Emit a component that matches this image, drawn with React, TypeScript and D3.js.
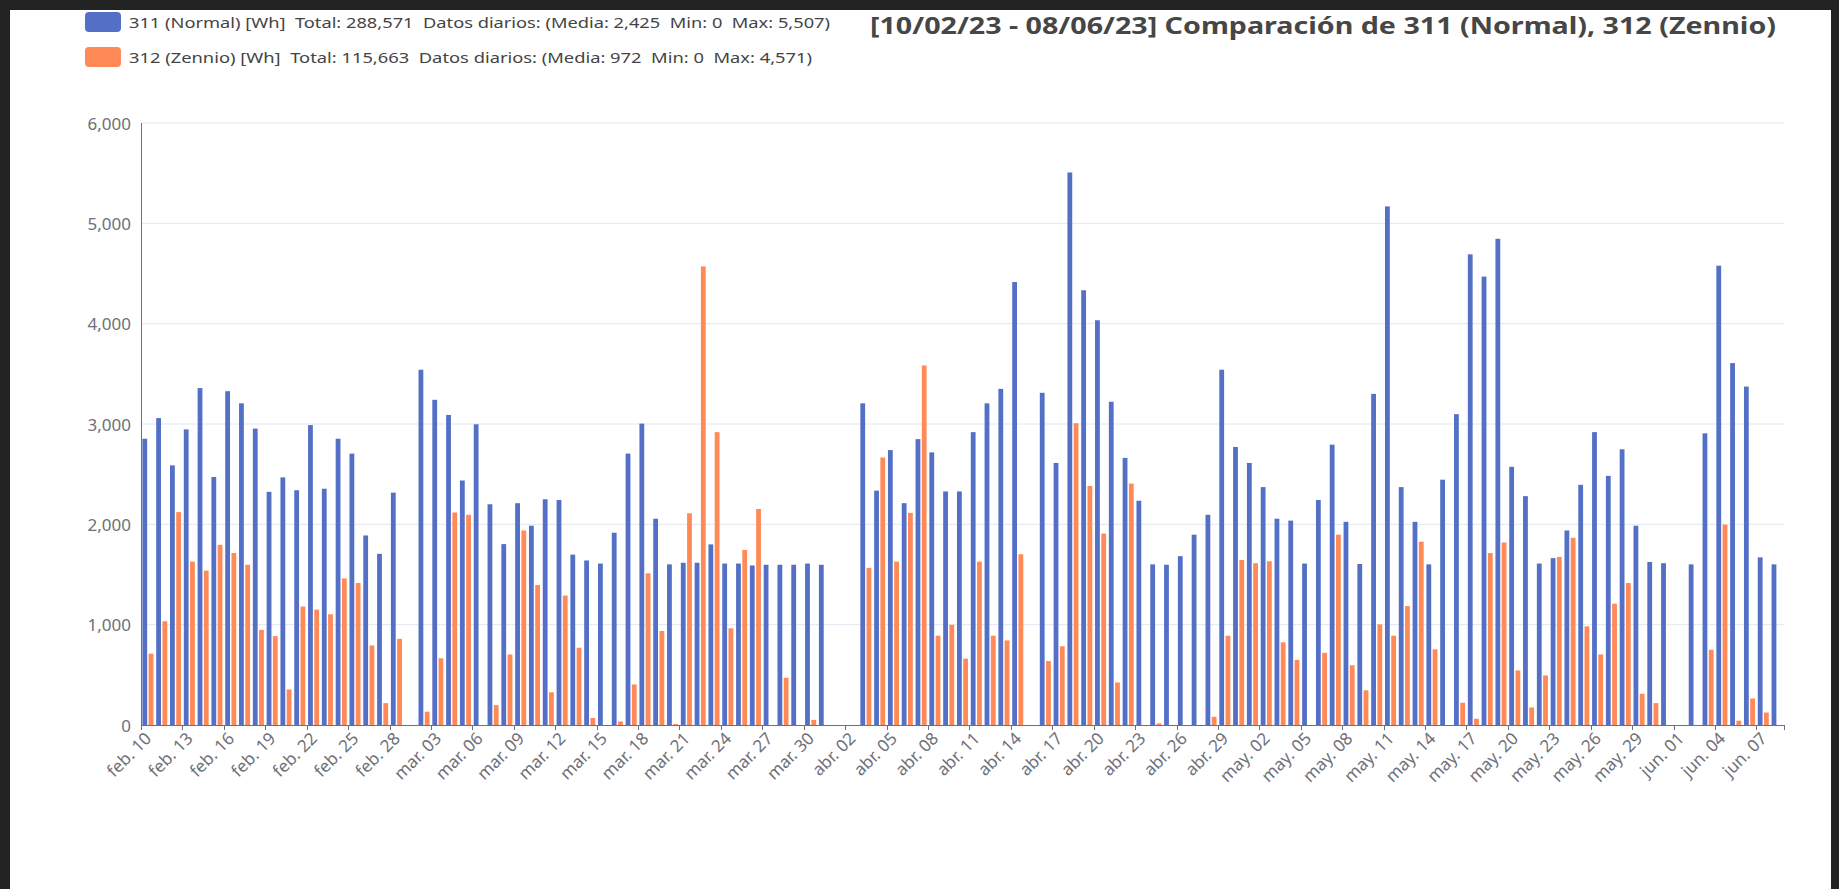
import React from 'react';
import * as d3 from 'd3';

// ---- Data ----
const monthAbbr = ['ene.', 'feb.', 'mar.', 'abr.', 'may.', 'jun.', 'jul.', 'ago.', 'sep.', 'oct.', 'nov.', 'dic.'];
const days = d3.timeDay.range(new Date(2023, 1, 10), new Date(2023, 5, 9));
const categories: string[] = days.map(
  (d) => `${monthAbbr[d.getMonth()]} ${String(d.getDate()).padStart(2, '0')}`
);

const series311: number[] = [
  2853, 3059, 2588, 2946, 3358, 2472, 3327, 3206, 2954, 2324,
  2468, 2340, 2989, 2355, 2853, 2705, 1889, 1706, 2316, 0,
  3541, 3241, 3090, 2437, 2997, 2200, 1803, 2211, 1986, 2250,
  2243, 1698, 1640, 1609, 1916, 2705, 3004, 2056, 1601, 1617,
  1617, 1800, 1609, 1609, 1590, 1597, 1597, 1597, 1609, 1597,
  0, 0, 3206, 2336, 2740, 2211, 2849, 2717, 2328, 2328,
  2919, 3206, 3350, 4415, 0, 3311, 2612, 5507, 4333, 4034,
  3222, 2662, 2235, 1601, 1597, 1683, 1897, 2095, 3541, 2771,
  2612, 2371, 2056, 2037, 1609, 2243, 2794, 2025, 1605, 3300,
  5169, 2371, 2025, 1601, 2445, 3098, 4691, 4469, 4846, 2573,
  2281, 1609, 1663, 1939, 2394, 2919, 2483, 2748, 1986, 1625,
  1613, 0, 1601, 2907, 4578, 3607, 3373, 1671, 1601,
];

const series312: number[] = [
  711, 1034, 2122, 1628, 1539, 1796, 1714, 1597, 948, 886,
  354, 1181, 1150, 1104, 1461, 1415, 793, 218, 859, 0,
  132, 665, 2118, 2095, 0, 198, 703, 1939, 1395, 326,
  1290, 770, 70, 0, 35, 404, 1512, 937, 10, 2110,
  4571, 2919, 964, 1745, 2153, 0, 470, 0, 51, 0,
  0, 0, 1566, 2666, 1628, 2114, 3583, 890, 999, 661,
  1628, 890, 843, 1702, 0, 637, 785, 3008, 2382, 1908,
  424, 2406, 0, 16, 0, 0, 0, 82, 890, 1644,
  1613, 1632, 824, 649, 0, 719, 1897, 595, 346, 1003,
  890, 1185, 1827, 754, 0, 222, 62, 1714, 1819, 544,
  175, 494, 1675, 1866, 983, 703, 1209, 1415, 311, 218,
  0, 0, 0, 750, 1998, 43, 264, 124, 0,
];

const seriesNames = ['311', '312'];
const seriesColors = ['#5470c6', '#ff8a57'];
const legendLabels = [
  '311 (Normal) [Wh]  Total: 288,571  Datos diarios: (Media: 2,425  Min: 0  Max: 5,507)',
  '312 (Zennio) [Wh]  Total: 115,663  Datos diarios: (Media: 972  Min: 0  Max: 4,571)',
];
const titleText = '[10/02/23 - 08/06/23] Comparación de 311 (Normal), 312 (Zennio)';
const yTickValues = [0, 1000, 2000, 3000, 4000, 5000, 6000];

// ---- Layout ----
const W = 1839;
const H = 889;
const plot = { left: 141, right: 1784, top: 123, bottom: 725 };
const FONT = "'Noto Sans', 'Open Sans', sans-serif";

export default function App() {
  const x = d3.scaleBand<string>().domain(categories).range([plot.left, plot.right]).padding(0);
  const bw = x.bandwidth();
  const x1 = d3
    .scaleBand<string>()
    .domain(seriesNames)
    .range([bw * 0.1, bw * 0.9])
    .paddingInner(0.3 / 1.3)
    .paddingOuter(0);
  const y = d3.scaleLinear().domain([0, 6000]).range([plot.bottom, plot.top]);
  const fmt = d3.format(',');

  const data = [series311, series312];
  const tickIdx = categories.map((_, i) => i).filter((i) => i % 3 === 0);

  return (
    <div style={{ position: 'fixed', left: 0, top: 0, width: W, height: H }}>
      <svg width={W} height={H} style={{ display: 'block' }}>
        <rect x={0} y={0} width={W} height={H} fill="#232323" />
        <rect x={10} y={10} width={1821} height={H - 10} fill="#ffffff" />

        {/* title */}
        <text
          x={1776}
          y={34}
          textAnchor="end"
          fontFamily={FONT}
          fontWeight="bold"
          fontSize={24}
          fill="#464646"
          textLength={906}
          lengthAdjust="spacingAndGlyphs"
        >
          {titleText}
        </text>

        {/* legend */}
        {legendLabels.map((lab, k) => {
          const cy = k === 0 ? 22 : 57;
          const tl = k === 0 ? 701 : 683;
          return (
            <g key={k}>
              <rect x={85} y={cy - 10} width={36} height={20} rx={4} fill={seriesColors[k]} />
              <text
                x={129}
                y={cy}
                dominantBaseline="central"
                fontFamily={FONT}
                fontSize={15}
                fill="#444"
                style={{ whiteSpace: 'pre' }}
                textLength={tl}
                lengthAdjust="spacingAndGlyphs"
              >
                {lab}
              </text>
            </g>
          );
        })}

        {/* grid lines */}
        {yTickValues.map((v) =>
          v === 0 ? null : (
            <line key={v} x1={plot.left} x2={plot.right} y1={y(v)} y2={y(v)} stroke="#e0e6f1" strokeWidth={1} />
          )
        )}

        {/* y axis labels */}
        {yTickValues.map((v) => (
          <text
            key={'yl' + v}
            x={plot.left - 10}
            y={y(v)}
            textAnchor="end"
            dominantBaseline="central"
            fontFamily={FONT}
            fontSize={17}
            fill="#6e7079"
          >
            {fmt(v)}
          </text>
        ))}

        {/* bars */}
        {data.map((arr, s) =>
          arr.map((v, i) =>
            v > 0 ? (
              <rect
                key={s + '-' + i}
                x={(x(categories[i]) as number) + (x1(seriesNames[s]) as number)}
                y={y(v)}
                width={x1.bandwidth()}
                height={y(0) - y(v)}
                fill={seriesColors[s]}
              />
            ) : null
          )
        )}

        {/* y axis line */}
        <line x1={plot.left + 0.5} x2={plot.left + 0.5} y1={plot.top} y2={plot.bottom} stroke="#6e7079" />
        {/* x axis line */}
        <line x1={plot.left} x2={plot.right} y1={plot.bottom + 0.5} y2={plot.bottom + 0.5} stroke="#6e7079" />

        {/* x ticks */}
        {[...tickIdx.map((i) => x(categories[i]) as number), plot.right].map((tx, k) => (
          <line
            key={'xt' + k}
            x1={Math.round(tx) + 0.5}
            x2={Math.round(tx) + 0.5}
            y1={plot.bottom}
            y2={plot.bottom + 5}
            stroke="#6e7079"
          />
        ))}

        {/* x labels */}
        {tickIdx.map((i) => {
          const cx = (x(categories[i]) as number) + bw / 2;
          const cy = plot.bottom + 10;
          return (
            <text
              key={'xl' + i}
              transform={`translate(${cx},${cy}) rotate(-45)`}
              textAnchor="end"
              dominantBaseline="central"
              fontFamily={FONT}
              fontSize={17}
              fill="#6e7079"
            >
              {categories[i]}
            </text>
          );
        })}
      </svg>
    </div>
  );
}
